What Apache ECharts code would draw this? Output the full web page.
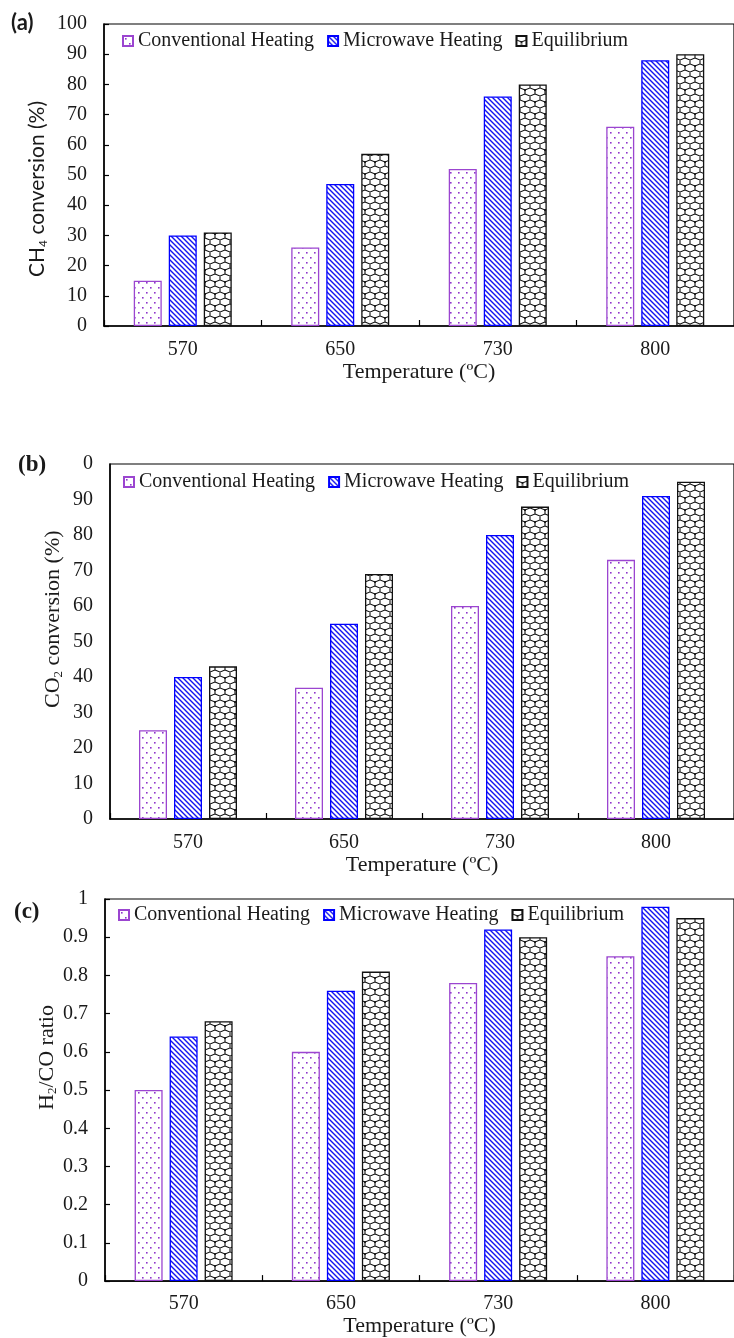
<!DOCTYPE html>
<html><head><meta charset="utf-8">
<script src="https://cdn.jsdelivr.net/npm/echarts@6/dist/echarts.min.js"></script>
<style>html,body{margin:0;padding:0;background:#fff}#c{width:734px;height:1338px}</style>
</head><body><div id="c"></div>
<script>
// ---------- data ----------
const categories = ['570', '650', '730', '800'];
const seriesNames = ['Conventional Heating', 'Microwave Heating', 'Equilibrium'];

const ch4Conventional = [15, 26, 52, 66];
const ch4Microwave    = [30, 47, 76, 88];
const ch4Equilibrium  = [31, 57, 80, 90];

const co2Conventional = [25, 37, 60, 73];
const co2Microwave    = [40, 55, 80, 91];
const co2Equilibrium  = [43, 69, 88, 95];

const ratioConventional = [0.50, 0.60, 0.78, 0.85];
const ratioMicrowave    = [0.64, 0.76, 0.92, 0.98];
const ratioEquilibrium  = [0.68, 0.81, 0.90, 0.95];

const yTicksA = ['0', '10', '20', '30', '40', '50', '60', '70', '80', '90', '100'];
const yTicksB = ['0', '10', '20', '30', '40', '50', '60', '70', '80', '90', '0'];
const yTicksC = ['0', '0.1', '0.2', '0.3', '0.4', '0.5', '0.6', '0.7', '0.8', '0.9', '1'];

const xTitle = 'Temperature (ºC)';

// ---------- patterns ----------
function makeTile(w, h, draw) {
  const c = document.createElement('canvas');
  c.width = w; c.height = h;
  const g = c.getContext('2d');
  g.fillStyle = '#fff'; g.fillRect(0, 0, w, h);
  draw(g);
  return c;
}
const dotTile = makeTile(8, 10, g => {
  g.fillStyle = '#8f35cc';
  g.fillRect(2, 2, 1.6, 1.6);
  g.fillRect(6, 7, 1.6, 1.6);
});
const hatchTile = makeTile(5, 5, g => {
  g.strokeStyle = '#1414f0'; g.lineWidth = 1.4;
  g.beginPath();
  for (let k = -5; k <= 5; k += 5) { g.moveTo(k - 1, -1); g.lineTo(k + 6, 6); }
  g.stroke();
});
const chainTile = makeTile(10, 12, g => {
  g.strokeStyle = '#111'; g.lineWidth = 1.1;
  g.beginPath();
  g.moveTo(0, 0); g.lineTo(0, 4); g.lineTo(5, 6); g.lineTo(10, 4); g.lineTo(10, 0);
  g.moveTo(5, 6); g.lineTo(5, 10); g.lineTo(0, 12);
  g.moveTo(5, 10); g.lineTo(10, 12);
  g.stroke();
  g.fillStyle = '#000';
  g.fillRect(4.2, 5.3, 1.6, 1.6);
});

const styles = [
  { color: { image: dotTile, repeat: 'repeat' }, borderColor: '#9b45d0', borderWidth: 1.3 },
  { color: { image: hatchTile, repeat: 'repeat' }, borderColor: '#0000ff', borderWidth: 1.3 },
  { color: { image: chainTile, repeat: 'repeat' }, borderColor: '#111', borderWidth: 1.3 }
];

// ---------- layout ----------
const serif = 'Liberation Serif';
const panels = [
  { grid: { left: 104, top: 24, width: 632, height: 302 }, max: 100, interval: 10, ticks: yTicksA, yTick: true,
    data: [ch4Conventional, ch4Microwave, ch4Equilibrium], legendPos: { left: 122, top: 31 }, labelMargin: 14, nameGap: 35 },
  { grid: { left: 110, top: 464, width: 635, height: 355 }, max: 100, interval: 10, ticks: yTicksB, yTick: false,
    data: [co2Conventional, co2Microwave, co2Equilibrium], legendPos: { left: 123, top: 472 }, labelMargin: 14, nameGap: 35 },
  { grid: { left: 105, top: 899, width: 638, height: 385 }, max: 1, interval: 0.1, ticks: yTicksC, yTick: true,
    data: [ratioConventional, ratioMicrowave, ratioEquilibrium], legendPos: { left: 118, top: 905 }, labelMargin: 13, nameGap: 32 }
];

const option = {
  animation: false,
  backgroundColor: '#fff',
  title: [
    { text: '(a)', left: 11, top: 12, padding: 0, textStyle: { fontFamily: 'Lato', fontWeight: 'bold', fontSize: 22, color: '#1a1a1a' } },
    { text: '(b)', left: 18, top: 454, padding: 0, textStyle: { fontFamily: serif, fontWeight: 'bold', fontSize: 23, color: '#1a1a1a' } },
    { text: '(c)', left: 14, top: 901, padding: 0, textStyle: { fontFamily: serif, fontWeight: 'bold', fontSize: 23, color: '#1a1a1a' } }
  ],
  grid: [], xAxis: [], yAxis: [], series: [], legend: [],
  graphic: [
    { type: 'text', x: 37, y: 277, rotation: Math.PI / 2,
      style: { text: 'CH{sub|4} conversion (%)', fontFamily: 'Lato', fontSize: 21, fill: '#1a1a1a', align: 'left', verticalAlign: 'middle', lineHeight: 24,
        rich: { sub: { fontFamily: 'Lato', fontSize: 12, lineHeight: 13, verticalAlign: 'bottom', fill: '#1a1a1a' } } } },
    { type: 'text', x: 53, y: 708, rotation: Math.PI / 2,
      style: { text: 'CO{sub|2} conversion (%)', fontFamily: serif, fontSize: 22, fill: '#1a1a1a', align: 'left', verticalAlign: 'middle', lineHeight: 24,
        rich: { sub: { fontFamily: serif, fontSize: 13, lineHeight: 13, verticalAlign: 'bottom', fill: '#1a1a1a' } } } },
    { type: 'text', x: 47, y: 1110, rotation: Math.PI / 2,
      style: { text: 'H{sub|2}/CO ratio', fontFamily: serif, fontSize: 22, fill: '#1a1a1a', align: 'left', verticalAlign: 'middle', lineHeight: 24,
        rich: { sub: { fontFamily: serif, fontSize: 13, lineHeight: 13, verticalAlign: 'bottom', fill: '#1a1a1a' } } } }
  ]
};

panels.forEach((p, i) => {
  option.grid.push(Object.assign({ show: true, borderColor: '#000', borderWidth: 1.2, backgroundColor: 'transparent' }, p.grid));
  option.xAxis.push({
    type: 'category', gridIndex: i, data: categories, boundaryGap: true,
    name: xTitle, nameLocation: 'middle', nameGap: p.nameGap,
    nameTextStyle: { fontFamily: serif, fontSize: 22, color: '#1a1a1a' },
    axisLine: { lineStyle: { color: '#000', width: 1.5 } },
    axisTick: { show: true, inside: true, length: 6, interval: 0, lineStyle: { color: '#000', width: 1.2 } },
    axisLabel: { interval: 0, margin: p.labelMargin, fontFamily: serif, fontSize: 20, color: '#1a1a1a' },
    splitLine: { show: false }
  });
  const ticks = p.ticks;
  option.yAxis.push({
    type: 'value', gridIndex: i, min: 0, max: p.max, interval: p.interval,
    axisLine: { show: true, lineStyle: { color: '#000', width: 1.5 } },
    axisTick: { show: p.yTick, inside: true, length: 5, lineStyle: { color: '#000', width: 1.2 } },
    axisLabel: { margin: 17, fontFamily: serif, fontSize: 20, color: '#1a1a1a',
      formatter: (v, idx) => ticks[idx] },
    splitLine: { show: false }
  });
  p.data.forEach((d, k) => {
    option.series.push({
      type: 'bar', name: seriesNames[k], xAxisIndex: i, yAxisIndex: i, data: d,
      barWidth: 28, barGap: '25%', itemStyle: styles[k], emphasis: { disabled: true }
    });
  });
  option.legend.push({
    left: p.legendPos.left, top: p.legendPos.top, padding: 0, itemWidth: 10, itemHeight: 10, itemGap: 13,
    icon: 'rect', data: seriesNames, selectedMode: false,
    textStyle: { fontFamily: serif, fontSize: 20, color: '#1a1a1a' }
  });
});

const chart = echarts.init(document.getElementById('c'), null, { renderer: 'canvas' });
chart.setOption(option);
</script>
</body></html>
